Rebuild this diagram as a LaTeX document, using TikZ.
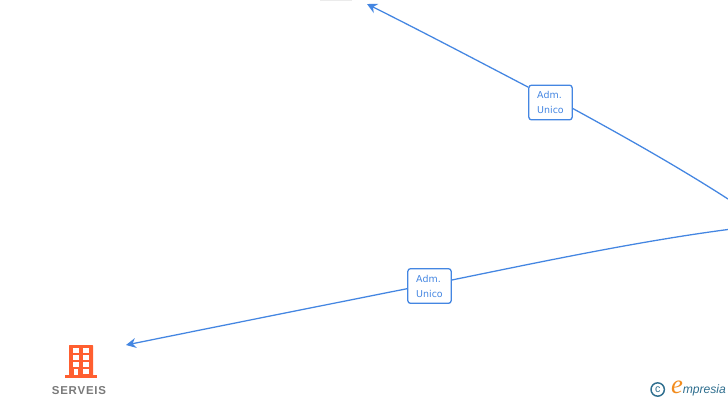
\documentclass[tikz,border=0pt]{standalone}
\usepackage{fontspec}
\setmainfont{DejaVu Sans}
\newfontfamily\logofont{Liberation Sans}
\newfontfamily\letterfont{Liberation Serif}
\usetikzlibrary{arrows.meta}
\definecolor{edgeblue}{HTML}{4486E2}
\definecolor{iconorange}{HTML}{FF5F30}
\definecolor{labelgrey}{HTML}{7A7A7A}
\definecolor{logoblue}{HTML}{2F6F8F}
\definecolor{logoorange}{HTML}{F28C1E}
\tikzset{
  link/.style={draw=edgeblue,line width=0.95pt},
  linkend/.style={link,-{Stealth[length=7.5pt,width=7.5pt]}},
  rolebox/.style={draw=edgeblue,fill=white,rounded corners=2pt,line width=0.95pt,minimum width=32.5pt,minimum height=26pt,inner sep=0pt,align=left,text=edgeblue,font=\fontsize{7.1}{11.3}\selectfont},
  win/.style={fill=white,draw=none}
}
\begin{document}
\begin{tikzpicture}[x=0.75pt,y=-0.75pt]
\useasboundingbox (0,0) rectangle (728,400);
\fill[white] (0,0) rectangle (728,400);
\fill[black!8] (320,0) rectangle (352,1);
\coordinate (topend) at (367,4);
\coordinate (leftend) at (126,345);
\coordinate (rightA) at (728,199);
\coordinate (rightB) at (728,229.5);
\node[rolebox] (roleA) at (550.5,102.5) {Adm.\\Unico};
\node[rolebox] (roleB) at (429.5,286) {Adm.\\Unico};
\draw[link] (rightA) .. controls (680,168) and (625,137) .. ([yshift=-4.5pt]roleA.east);
\draw[linkend] ([yshift=11.5pt]roleA.west) .. controls (480,62) and (425,33) .. (topend);
\draw[link] (rightB) .. controls (640,241) and (540,262) .. ([yshift=4.5pt]roleB.east);
\draw[linkend] ([yshift=-2pt]roleB.west) .. controls (320,306) and (220,326) .. (leftend);
% building icon
\fill[iconorange,rounded corners=0.4pt] (69,345) rectangle (93,376);
\fill[iconorange] (65,375) rectangle (97,378);
\foreach \wy in {348,355,362}{
  \fill[win] (73,\wy) rectangle (78.5,{\wy+4.5});
  \fill[win] (83,\wy) rectangle (88.5,{\wy+4.5});
}
\fill[win] (83,369) rectangle (88.5,373.5);
\fill[win] (74,369) rectangle (77.5,375);
\node[text=labelgrey,font=\logofont\bfseries\fontsize{8.6}{10}\selectfont,inner sep=0pt] (serveis) at (79,390.5) {S\kern0.55pt E\kern0.55pt R\kern0.55pt V\kern0.55pt E\kern0.55pt I\kern0.55pt S};
% logo
\node[draw=logoblue,circle,line width=1.1pt,minimum size=10pt,inner sep=0pt,text=logoblue,font=\logofont\fontsize{8}{8}\selectfont] (copy) at (657.7,389.5) {c};
\node[text=logoorange,font=\letterfont\itshape\fontsize{20}{20}\selectfont,inner sep=0pt] (logoe) at (677,387.5) {e};
\node[anchor=west,text=logoblue,font=\logofont\itshape\fontsize{9.1}{12}\selectfont,inner sep=0pt] (logotext) at (682.5,390) {mpresia};
\end{tikzpicture}
\end{document}
